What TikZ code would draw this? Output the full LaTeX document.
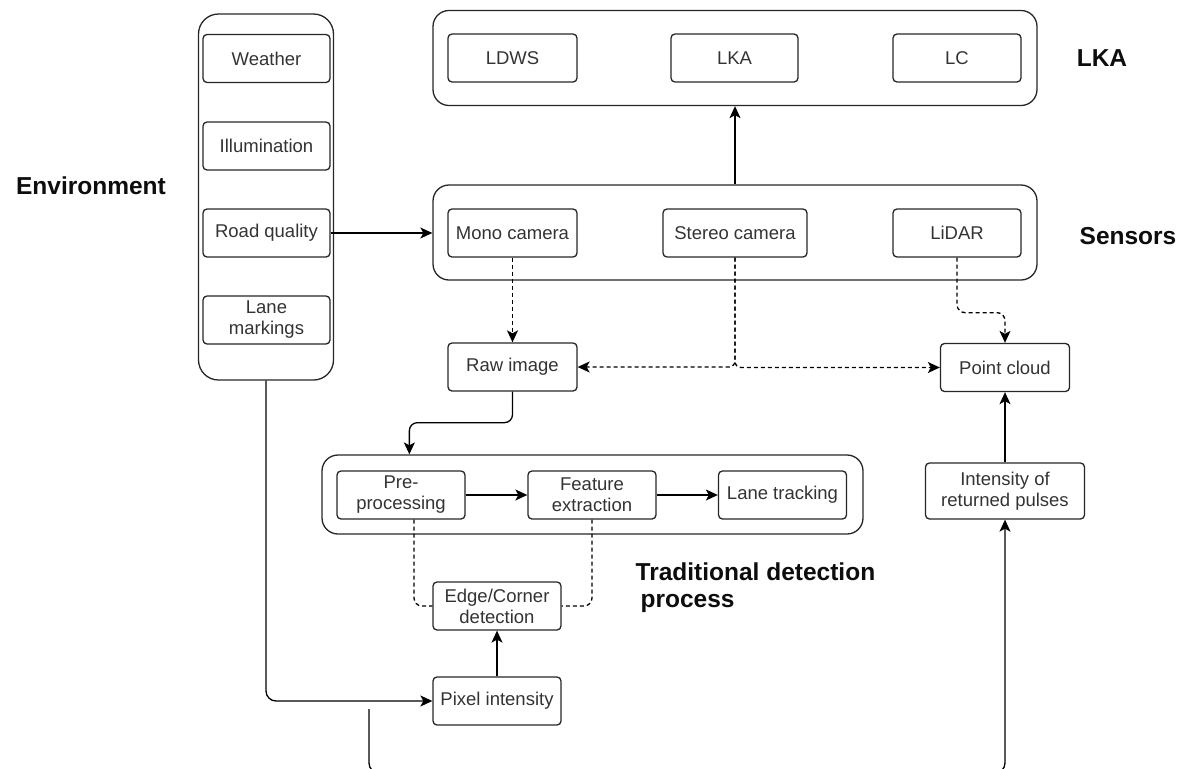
\documentclass[tikz,border=0pt]{standalone}
\usepackage{fontspec}
\setmainfont{Liberation Sans}
\usetikzlibrary{arrows.meta}
\tikzset{
  >={Stealth[length=12pt,width=11pt,inset=3pt]},
  box/.style={draw=black!85, rounded corners=4pt, minimum height=48pt, minimum width=128pt, inner sep=1pt, align=center, font=\fontsize{18.5}{21}\selectfont, text=black!80},
  cont/.style={draw=black!85, rounded corners=16pt, inner sep=0pt},
  lbl/.style={font=\fontsize{24.5}{27}\selectfont\bfseries, inner sep=0pt, text=black!95},
  arr/.style={->},
  darr/.style={->, dash pattern=on 4pt off 3pt},
  dline/.style={dash pattern=on 4pt off 3pt},
}
\begin{document}
\begin{tikzpicture}[x=1pt,y=-1pt, line width=1.3pt]
\useasboundingbox (0,0) rectangle (1187,769);
\clip (0,0) rectangle (1187,769);

% Environment
\node[cont, minimum width=135pt, minimum height=366pt, rounded corners=20pt] (envc) at (266,197) {};
\node[box, minimum width=127pt] (weather) at (266.5,58.5) {Weather};
\node[box, minimum width=127pt] (illum) at (266.5,146) {Illumination};
\node[box, minimum width=127pt] (road) at (266.5,233) {Road quality};
\node[box, minimum width=127pt] (lanem) at (266.5,320) {Lane\\markings};
\node[lbl] (envl) at (91,186) {Environment};

% LKA
\node[cont, minimum width=604pt, minimum height=95pt] (lkac) at (735,58) {};
\node[box, minimum width=129pt] (ldws) at (512.5,58) {LDWS};
\node[box, minimum width=127pt] (lkab) at (734.5,58) {LKA};
\node[box] (lc) at (957,58) {LC};
\node[lbl] (lkal) at (1102,58) {LKA};

% Sensors
\node[cont, minimum width=604pt, minimum height=95pt] (sens) at (735,232.5) {};
\node[box, minimum width=129pt] (mono) at (512.5,233) {Mono camera};
\node[box, minimum width=144pt] (stereo) at (735,233) {Stereo camera};
\node[box] (lidar) at (957,233) {LiDAR};
\node[lbl] (sensl) at (1128,236) {Sensors};

% Middle
\node[box, minimum width=129pt] (raw) at (512.5,367) {Raw image};
\node[box, minimum width=129pt] (pc) at (1005,367.5) {Point cloud};
\node[box, minimum width=159pt, minimum height=56pt] (ipr) at (1005,491) {Intensity of\\returned pulses};

% Traditional detection
\node[cont, minimum width=541pt, minimum height=79pt] (trad) at (592.5,494.5) {};
\node[box] (pre) at (401,495) {Pre-\\processing};
\node[box] (feat) at (592,495) {Feature\\extraction};
\node[box] (lanet) at (782.5,495) {Lane tracking};
\node[box] (edge) at (497,606) {Edge/Corner\\detection};
\node[box] (pix) at (497,701) {Pixel intensity};
\node[lbl, anchor=north west, align=left] (tradl) at (635,562) {Traditional detection\\\hspace*{5pt}process};

% Connectors
\draw[arr] (sens.north) -- (lkac.south);
\draw[arr] (road.east) -- (road.east -| sens.west);
\draw[darr] (mono) -- (raw);
\draw[darr, rounded corners=6pt] (stereo.south) |- (raw.east);
\draw[darr, rounded corners=6pt] (stereo.south) |- (pc.west);
\draw[darr, rounded corners=8pt] (lidar.south) -- ++(0,55) -| (pc.north);
\draw[arr, rounded corners=8pt] (raw.south) -- ++(0,31) -| ([xshift=88pt]trad.north west);
\draw[arr] (pre) -- (feat);
\draw[arr] (feat) -- (lanet);
\draw[dline, rounded corners=8pt] ([xshift=13pt]pre.south) |- (edge.west);
\draw[dline, rounded corners=8pt] (feat.south) |- (edge.east);
\draw[arr] (pix) -- (edge);
\draw[arr, rounded corners=10pt] (envc.south) |- (pix.west);
\draw[arr] (ipr.north) -- (pc.south);
\coordinate (bstart) at (369,709);
\draw[arr, rounded corners=10pt] (bstart) -- ++(0,64) -| (ipr.south);
\end{tikzpicture}
\end{document}
